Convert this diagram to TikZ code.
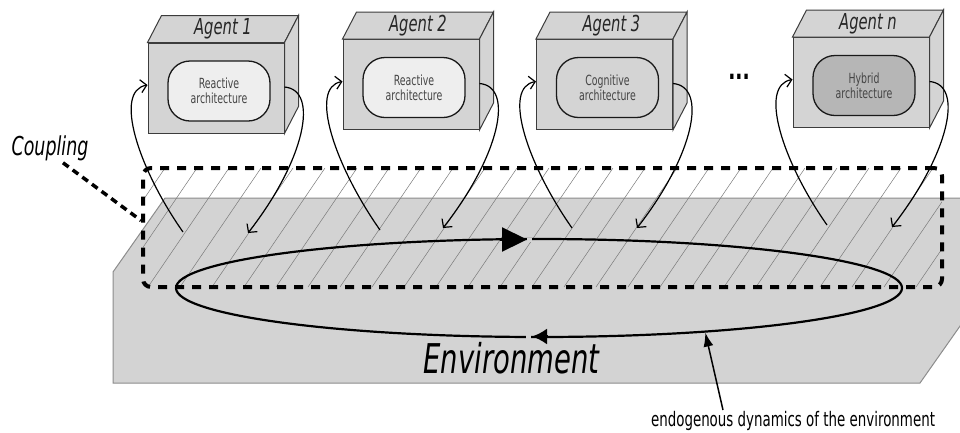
\documentclass[tikz,border=0pt]{standalone}
\usepackage{fontspec}
\setmainfont{DejaVu Sans}[FakeStretch=0.67]
\usetikzlibrary{arrows.meta,shapes.geometric}
\definecolor{boxgray}{HTML}{D4D4D4}
\definecolor{boxline}{HTML}{3C3C3C}
\definecolor{slabgray}{HTML}{D3D3D3}
\definecolor{slabline}{HTML}{8C8C8C}
\definecolor{archlight}{HTML}{EEEEEE}
\definecolor{archdark}{HTML}{B6B6B6}
\definecolor{hatchgray}{HTML}{7A7A7A}
\definecolor{archtext}{HTML}{454545}
\newcommand\agentbox[6]{%
  \node[frontface] (#1) at (#2) {};
  \draw[face] (#1.north west) -- ++(14,-27) -- ([shift={(14,-27)}]#1.north east) -- (#1.north east) -- cycle;
  \draw[face] (#1.north east) -- ++(14,-27) -- ([shift={(14,-27)}]#1.south east) -- (#1.south east) -- cycle;
  \node[agentlabel] (#1t) at ([shift={(7,-13.5)}]#1.north) {#3};
  \node[arch, fill=#5] (#6) at ([shift={(3,3)}]#1.center) {#4};
}
\begin{document}
\begin{tikzpicture}[x=1pt,y=-1pt,
  face/.style={fill=boxgray,draw=boxline,line width=1pt},
  frontface/.style={face,minimum width=136pt,minimum height=90pt,inner sep=0pt},
  agentlabel/.style={font=\fontsize{22}{24}\selectfont\itshape,text=black!85,inner sep=0pt},
  arch/.style={draw=black!90,line width=1.3pt,rounded corners=22pt,minimum width=102pt,minimum height=60pt,
    align=center,font=\fontsize{14}{15}\selectfont,text=archtext,inner sep=0pt},
  agarrow/.style={line width=1.2pt,-{Straight Barb[length=6pt,width=13pt]}},
  hatch/.style={draw=hatchgray,line width=0.5pt},
  couplingbox/.style={draw=black,line width=4pt,dash pattern=on 9pt off 8pt,rounded corners=8pt,
    minimum width=799pt,minimum height=119pt,inner sep=0pt},
  leader/.style={draw=black,line width=3.5pt,dash pattern=on 7pt off 5pt},
]
\useasboundingbox (0,0) rectangle (960,432);
\clip (0,0) rectangle (960,432);

% environment slab
\filldraw[fill=slabgray,draw=slabline,line width=1pt]
  (113,383) -- (113,272) -- (165,198) -- (972,198) -- (972,309) -- (920,383) -- cycle;

% hatching inside coupling zone
\begin{scope}
  \clip[rounded corners=8pt] (143,168) rectangle (942,287);
  \foreach \k in {0,...,33} \draw[hatch] (\k*32-12,287) -- ++(81,-119);
\end{scope}

% coupling zone
\node[couplingbox] (coupling) at (542.5,227.5) {};

% endogenous dynamics
\node[ellipse,draw=black,line width=2.2pt,minimum width=726pt,minimum height=98pt,inner sep=0pt] (dyn) at (539,288) {};
\coordinate (gapT1) at (527,239.5);
\coordinate (gapT2) at (532,239.5);
\coordinate (gapB1) at (526,336.5);
\coordinate (gapB2) at (531,336.5);
\draw[slabgray,line width=4pt] (gapT1) -- (gapT2);
\draw[slabgray,line width=4pt] (gapB1) -- (gapB2);
\coordinate (topA) at (500,239.5);
\coordinate (topB) at (527,239.5);
\coordinate (botA) at (548,336.5);
\coordinate (botB) at (532,336.5);
\draw[line width=2.2pt,-{Triangle[length=25pt,width=24pt]}] (topA) -- (topB);
\draw[line width=2.2pt,-{Latex[length=15pt,width=16pt]}] (botA) -- (botB);

\node[font=\fontsize{41}{45}\selectfont\itshape,inner sep=0pt] (env) at (511.5,358) {Environment};

\node[font=\fontsize{20}{22}\selectfont,inner sep=0pt] (endo) at (793,421) {endogenous dynamics of the environment};
\coordinate (endotail) at (723,410);
\draw[line width=1.5pt,-{Latex[length=14pt,width=10pt]}] (endotail) -- (dyn.-15);

% coupling label
\node[font=\fontsize{26}{28}\selectfont\itshape,inner sep=0pt] (coup) at (50,148) {Coupling};
\draw[leader] ([xshift=13pt,yshift=-2pt]coup.south) -- ([yshift=7pt]coupling.west);

% agents
\agentbox{a1}{216,88}{Agent 1}{Reactive\\architecture}{archlight}{a1i}
\agentbox{a2}{411,84.5}{Agent 2}{Reactive\\architecture}{archlight}{a2i}
\agentbox{a3}{604.5,84.5}{Agent 3}{Cognitive\\architecture}{boxgray}{a3i}
\agentbox{an}{861,82.5}{Agent n}{Hybrid\\architecture}{archdark}{ani}

\node[font=\fontsize{28}{30}\selectfont\bfseries,inner sep=0pt] (dots) at (739,77) {...};

% perception / action arrows
\coordinate (e1l) at (183,232); \coordinate (e1r) at (248,233);
\coordinate (e2l) at (380,230); \coordinate (e2r) at (443,228);
\coordinate (e3l) at (572,228); \coordinate (e3r) at (637,228);
\coordinate (enl) at (827,225); \coordinate (enr) at (892,227);

\foreach \a/\l/\r in {a1/e1l/e1r,a2/e2l/e2r,a3/e3l/e3r,an/enl/enr}{
  \draw[agarrow] (\l) .. controls +(-45,-64) and +(-34,6) .. ([yshift=3pt]\a.west);
  \draw[agarrow] ([yshift=1pt]\a.east) .. controls +(35,3) and +(57,-73) .. (\r);
}
\end{tikzpicture}
\end{document}
